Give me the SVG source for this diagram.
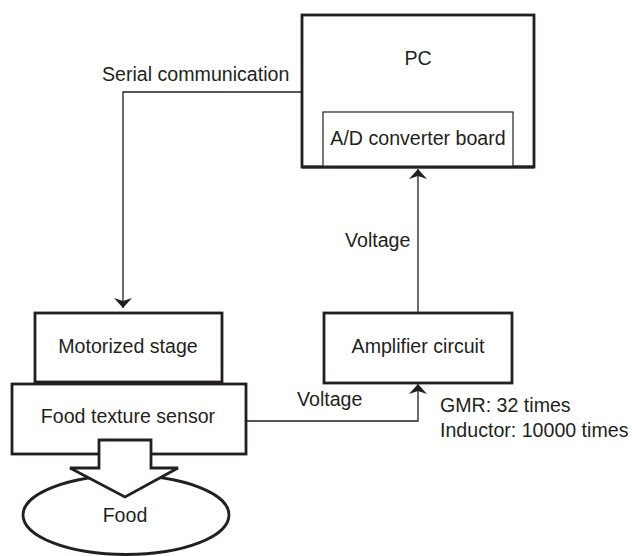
<svg xmlns="http://www.w3.org/2000/svg" width="632" height="556" viewBox="0 0 632 556">
  <defs>
    <style>
      .box { fill: #fff; stroke: #231f20; stroke-width: 2.8; }
      .thin { fill: #fff; stroke: #231f20; stroke-width: 1.2; }
      .wire { fill: none; stroke: #231f20; stroke-width: 1.3; }
      text { font-family: "Liberation Sans", Arial, sans-serif; font-size: 19.6px; fill: #231f20; }
      .c { text-anchor: middle; }
    </style>
    <marker id="arrow" viewBox="0 0 10 18" refX="10" refY="9" markerWidth="10" markerHeight="18" markerUnits="userSpaceOnUse" orient="auto">
      <path d="M0,0 L10,9 L0,18 L3,9 Z" fill="#231f20"/>
    </marker>
  </defs>

  <g id="pc">
    <rect class="box" x="302" y="15" width="232" height="152"/>
    <text class="c" x="418" y="65">PC</text>
  </g>
  <g id="ad-board">
    <rect class="thin" x="323" y="112" width="190" height="55"/>
    <text class="c" x="418" y="145">A/D converter board</text>
    <line x1="302" y1="167" x2="534" y2="167" stroke="#231f20" stroke-width="2.8"/>
  </g>

  <g id="motorized-stage">
    <rect class="box" x="35" y="313" width="187" height="69"/>
    <text class="c" x="128" y="353">Motorized stage</text>
  </g>

  <g id="food-sensor">
    <rect class="box" x="12" y="384" width="234" height="70"/>
    <text class="c" x="128" y="423">Food texture sensor</text>
  </g>

  <g id="food">
    <ellipse class="box" cx="126" cy="515" rx="103" ry="39.5"/>
    <text class="c" x="125" y="522">Food</text>
  </g>

  <g id="press-arrow">
    <path class="box" d="M99,440 L151,440 L151,468 L178,468 L125,497 L70,468 L99,468 Z"/>
  </g>

  <g id="amplifier">
    <rect class="box" x="324" y="313" width="188" height="70"/>
    <text class="c" x="418" y="353">Amplifier circuit</text>
  </g>

  <g id="connectors">
    <path class="wire" d="M302,92 L123,92 L123,308" marker-end="url(#arrow)"/>
    <path class="wire" d="M418,313 L418,169" marker-end="url(#arrow)"/>
    <path class="wire" d="M246,421 L418,421 L418,384" marker-end="url(#arrow)"/>
  </g>

  <g id="labels">
    <text x="102" y="81">Serial communication</text>
    <text x="345" y="247">Voltage</text>
    <text x="297" y="406">Voltage</text>
    <text x="440" y="412">GMR: 32 times</text>
    <text x="440" y="437">Inductor: 10000 times</text>
  </g>
</svg>
